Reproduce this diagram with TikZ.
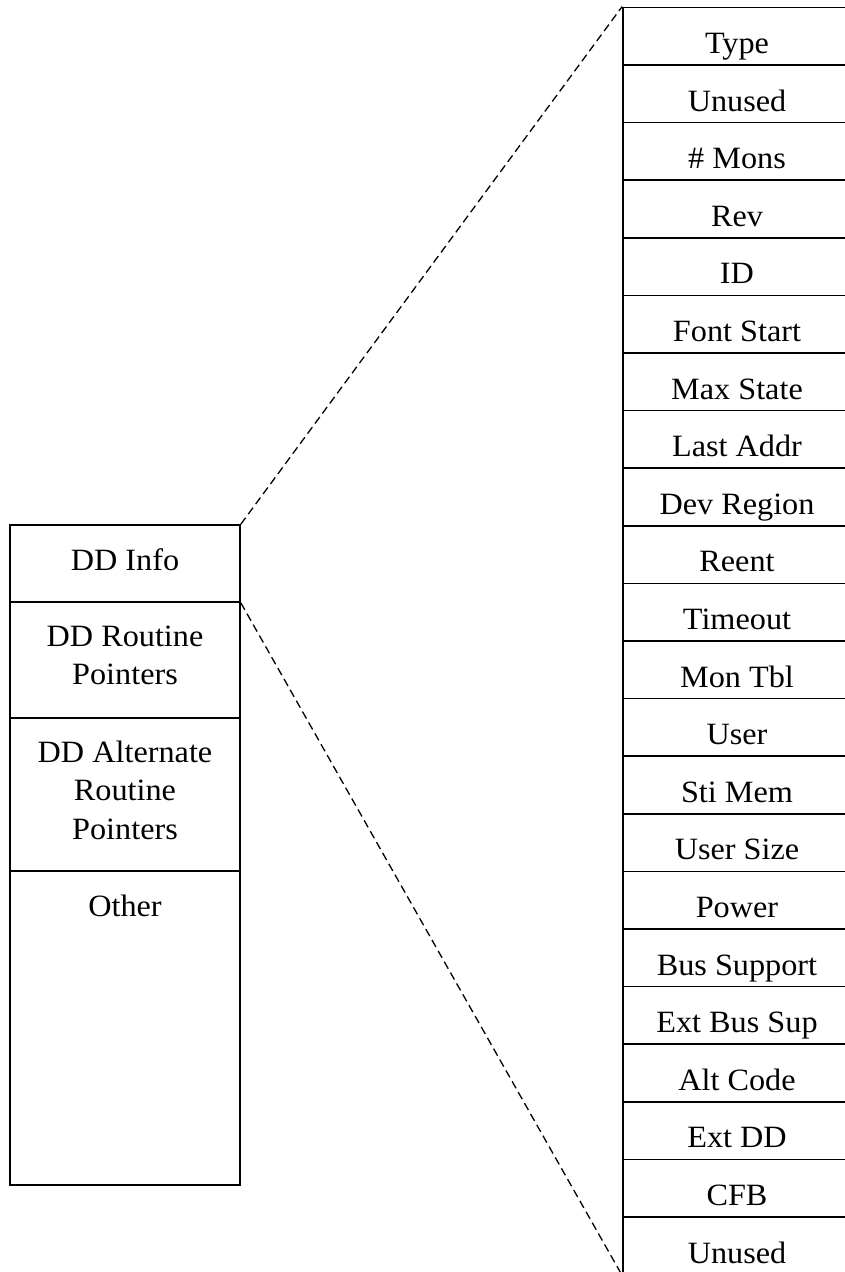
\documentclass[tikz,border=0pt]{standalone}
\usepackage{fontspec}
\setmainfont{Liberation Serif}[FakeStretch=1.04]
\begin{document}
\begin{tikzpicture}[x=1pt, y=-1pt,
  cell/.style={draw, line width=1.7pt, rectangle, inner sep=0pt,
    minimum width=228pt, minimum height=57.6pt,
    font=\fontsize{31}{38}\selectfont, text height=40pt, text depth=5.6pt},
  lbox/.style={draw, line width=1.7pt, rectangle, inner sep=0pt, minimum width=230pt},
  ltext/.style={anchor=north, inner sep=0pt, align=center,
    font=\fontsize{31}{38.5}\selectfont},
  zoomline/.style={line width=1.3pt, dash pattern=on 8pt off 4.5pt}]
\useasboundingbox (0,0) rectangle (845,1272);
\clip (0,0) rectangle (845,1272);

% fields of the DD info block
\foreach \t [count=\i from 0] in {Type, Unused, \# Mons, Rev, ID, Font Start,
    Max State, Last Addr, Dev Region, Reent, Timeout, Mon Tbl, User, Sti Mem,
    User Size, Power, Bus Support, Ext Bus Sup, Alt Code, Ext DD, CFB, Unused}
  \node[cell] (r\i) at (737, {36.2 + 57.6*\i}) {\t};

% driver layout
\node[lbox, minimum height=77pt]  (info)  at (125, 563.5) {};
\node[lbox, minimum height=116pt] (rout)  at (125, 660) {};
\node[lbox, minimum height=153pt] (alt)   at (125, 794.5) {};
\node[lbox, minimum height=314pt] (other) at (125, 1028) {};

\node[ltext] (tinfo)  at ([yshift=-24.5pt]info.north)  {DD Info};
\node[ltext] (trout)  at ([yshift=-24.5pt]rout.north)  {DD Routine\\Pointers};
\node[ltext] (talt)   at ([yshift=-23.5pt]alt.north)   {DD Alternate\\Routine\\Pointers};
\node[ltext] (tother) at ([yshift=-24.5pt]other.north) {Other};

% expansion lines
\draw[zoomline] (info.north east) -- (r0.north west);
\draw[zoomline] (info.south east) -- (r21.south west);
\end{tikzpicture}
\end{document}
